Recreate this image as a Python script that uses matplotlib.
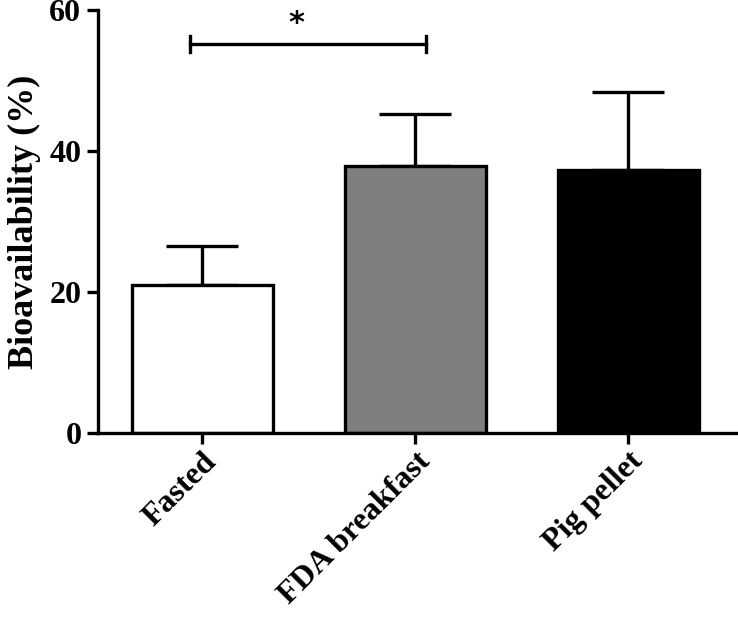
import matplotlib
matplotlib.use('Agg')
import matplotlib.pyplot as plt

# data
groups = ['Fasted', 'FDA breakfast', 'Pig pellet']
means = [21.0, 37.9, 37.3]
sem = [5.5, 7.3, 11.1]
colors = ['white', '#7f7f7f', 'black']

plt.rcParams['font.family'] = ['Liberation Serif', 'DejaVu Serif']
plt.rcParams['font.weight'] = 'bold'

fig = plt.figure(figsize=(7.38, 6.23), dpi=100)
ax = fig.add_axes([0.1328, 0.305, 0.866, 0.679])

x = list(range(len(groups)))
ax.bar(x, means, width=0.66, color=colors, edgecolor='black', linewidth=2.4, zorder=2)
ax.errorbar(x, means, yerr=[[0] * 3, sem], fmt='none', ecolor='black',
            elinewidth=2.4, capsize=26, capthick=2.4, zorder=1)

# significance bracket
ax.plot([-0.06, 1.05], [55.2, 55.2], color='black', lw=2.4, clip_on=False)
ax.plot([-0.06, -0.06], [54.1, 56.3], color='black', lw=2.4, clip_on=False)
ax.plot([1.05, 1.05], [54.1, 56.3], color='black', lw=2.4, clip_on=False)
ax.text(0.44, 56.0, '*', ha='center', va='bottom', fontsize=22, fontweight='bold',
        family='DejaVu Sans')

ax.set_xlim(-0.49, 2.51)
ax.set_ylim(0, 60)
ax.set_yticks([0, 20, 40, 60])
ax.set_xticks(x)
ax.set_xticklabels(groups, rotation=45, ha='right', va='top', rotation_mode='anchor',
                   fontsize=23, fontweight='bold')
ax.tick_params(axis='y', labelsize=23, width=2.4, length=8, direction='out', pad=4)
ax.tick_params(axis='x', width=2.4, length=8, direction='out', pad=2)
for lab in ax.get_yticklabels():
    lab.set_fontweight('bold')
ax.set_ylabel('Bioavailability (%)', fontsize=26, fontweight='bold', labelpad=6)

for s in ['top', 'right']:
    ax.spines[s].set_visible(False)
for s in ['left', 'bottom']:
    ax.spines[s].set_linewidth(2.4)

fig.savefig('out.png', dpi=100)
